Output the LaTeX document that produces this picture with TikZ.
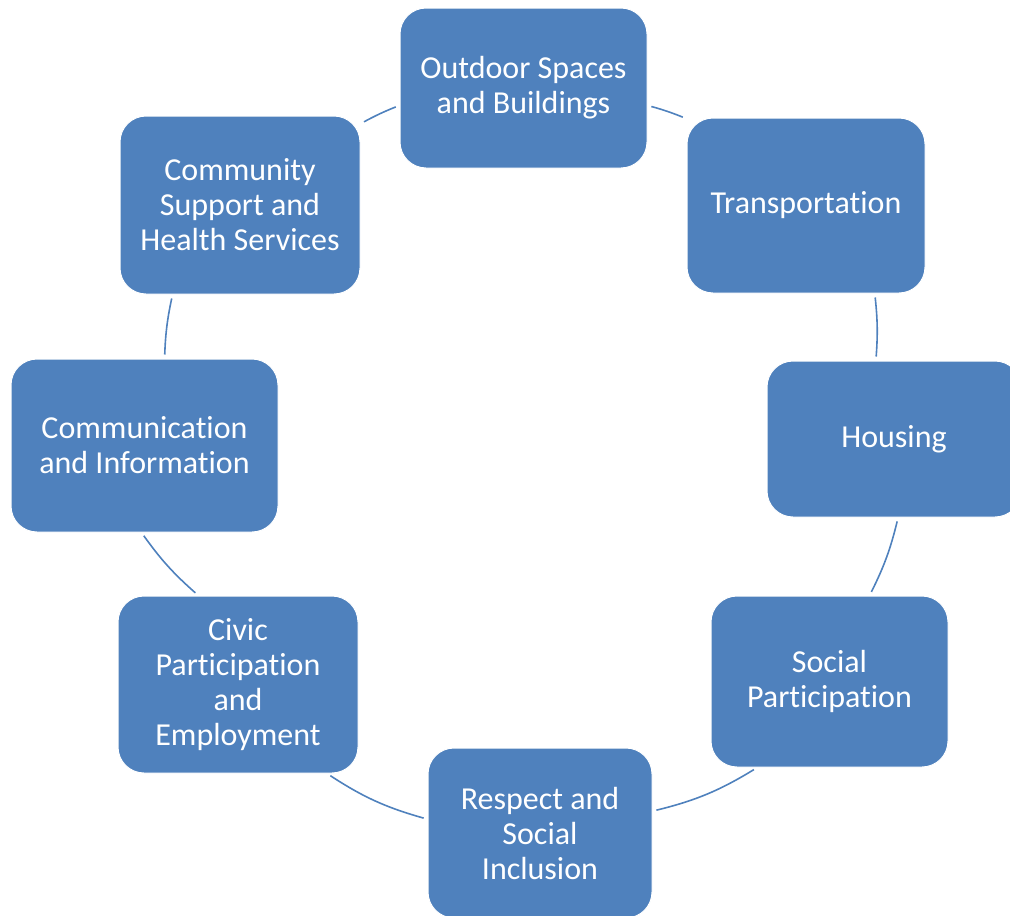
\documentclass[tikz,border=0pt]{standalone}
\usepackage{fontspec}
\setmainfont[Ligatures=NoCommon]{Carlito}
\usepackage{xcolor}
\usepackage{tikz}
\usetikzlibrary{positioning,calc}

\definecolor{cycleblue}{HTML}{4F81BD}

\begin{document}
\begin{tikzpicture}[
    x=1pt, y=-1pt,
    topic/.style={rectangle, draw=white, line width=1pt, fill=cycleblue, text=white, rounded corners=26pt, minimum width=240pt, minimum height=175pt, inner sep=0pt, align=center, font=\fontsize{32}{35}\selectfont},
    link/.style={draw=cycleblue, line width=1.6pt, shorten >=4pt, shorten <=4pt}
]
    \useasboundingbox (0,0) rectangle (1010,916);
    \clip (0,0) rectangle (1010,916);

    % Topics around the cycle
    \node[topic, minimum width=247pt, minimum height=160pt] (outdoor) at (523.5,88) {Outdoor Spaces\\and Buildings};
    \node[topic, minimum width=238pt] (transport) at (806,205.5) {Transportation};
    \node[topic, minimum width=254pt, minimum height=156pt] (housing) at (894,439) {Housing};
    \node[topic, minimum width=237pt, minimum height=171pt] (social) at (829.5,681.5) {Social\\Participation};
    \node[topic, minimum width=224pt, minimum height=170pt] (respect) at (540,833) {Respect and\\Social\\Inclusion};
    \node[topic, minimum height=177pt] (civic) at (238,684.5) {Civic\\Participation\\and\\Employment};
    \node[topic, minimum width=267pt, minimum height=173pt] (communication) at (144.5,445.5) {Communication\\and Information};
    \node[topic, minimum height=178pt] (community) at (240,205) {Community\\Support and\\Health Services};

    % Arcs between neighbours
    \draw[link] (outdoor.-8.3) to[bend left=3.3] (transport.144.9);
    \draw[link] (transport.-52.6) to[bend left=5.2] (housing.103);
    \draw[link] (housing.-87.8) to[bend left=6.4] (social.65.2);
    \draw[link] (social.230.5) to[bend left=8.8] (respect.11.9);
    \draw[link] (respect.173.3) to[bend left=8.7] (civic.-45.8);
    \draw[link] (civic.114.6) to[bend left=6.5] (communication.-92.3);
    \draw[link] (communication.77) to[bend left=5] (community.-127.5);
    \draw[link] (community.34.8) to[bend left=3.3] (outdoor.-172.5);
\end{tikzpicture}
\end{document}
